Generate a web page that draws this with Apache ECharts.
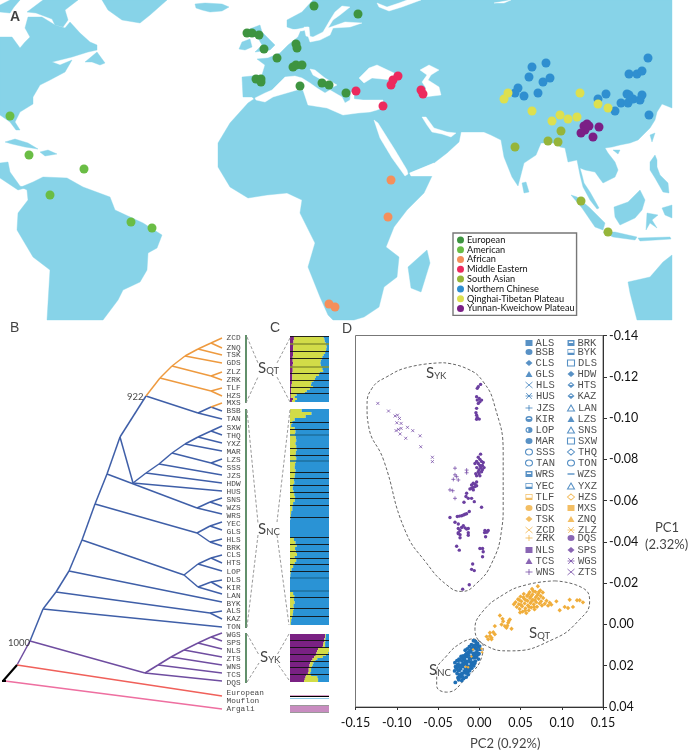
<!DOCTYPE html>
<html><head><meta charset="utf-8">
<style>html,body{margin:0;padding:0;background:#fff}#c{width:688px;height:751px}</style>
<script src="https://cdn.jsdelivr.net/npm/echarts@6/dist/echarts.min.js"></script>
</head><body><div id="c"></div>
<script>
// ---------- map outline (map units) ----------
const landPolys = [
 [[313,0],[672,0],[672,108],[662,104],[657,112],[655,120],[650,128],[638,140],[630,143],[620,145],[612,147],[605,148],[608,153],[615,162],[618,170],[615,177],[603,183],[600,179],[595,172],[585,170],[580,168],[582,175],[584,183],[590,192],[599,208],[597,209],[590,200],[583,187],[580,175],[577,160],[568,162],[565,148],[560,147],[557,143],[541,143],[536,155],[524,163],[518,186],[512,177],[504,157],[501,140],[491,135],[484,132],[461,132],[459,142],[447,153],[434,163],[409,173],[411,176],[432,176],[424,193],[407,210],[394,227],[386,247],[399,257],[397,277],[384,287],[379,307],[364,317],[354,320],[333,320],[328,315],[320,297],[308,267],[315,243],[300,213],[302,200],[287,193],[267,195],[248,198],[230,187],[218,167],[218,143],[230,123],[248,103],[254,99],[252,97],[243,97],[242,77],[262,75],[265,65],[257,59],[268,58],[280,53],[288,45],[298,37],[301,30],[293,29],[287,27],[287,20],[302,12]],
 [[239,49],[242,42],[250,39],[252,47],[245,50]],
 [[247,30],[260,25],[262,32],[268,38],[275,45],[270,50],[255,52],[262,45],[258,38],[252,34]],
 [[195,4],[205,3],[222,4],[229,7],[222,11],[210,12],[202,10],[196,8]],
 [[102,0],[167,0],[150,15],[140,23],[122,20],[108,10]],
 [[43,0],[78,0],[65,10],[68,20],[63,27],[55,25],[52,19],[36,13],[27,12]],
 [[0,5],[10,0],[20,0],[14,7],[10,13],[0,12]],
 [[0,37],[12,37],[20,48],[25,42],[30,37],[25,28],[28,17],[42,17],[55,25],[65,28],[70,22],[80,33],[90,42],[97,45],[97,50],[88,52],[72,57],[52,62],[60,65],[72,60],[65,72],[50,80],[40,85],[33,97],[33,104],[20,112],[15,122],[20,130],[16,130],[10,122],[0,115]],
 [[85,62],[97,52],[105,63],[100,65],[92,62]],
 [[5,142],[15,139],[28,143],[38,149],[25,147],[12,144]],
 [[40,152],[48,150],[57,154],[45,156]],
 [[0,163],[8,162],[10,172],[20,186],[25,188],[18,190],[0,178]],
 [[21,187],[33,182],[43,177],[67,178],[83,187],[110,197],[115,210],[143,223],[162,235],[157,248],[148,253],[147,270],[140,282],[123,290],[118,300],[103,320],[47,320],[50,270],[33,257],[17,230],[18,213],[28,200],[27,190]],
 [[408,267],[427,250],[430,263],[421,292],[411,288]],
 [[310,96],[318,94],[317,98]],
 [[297,83],[302,83],[302,92],[297,92]],
 [[650,135],[655,133],[652,142]],
 [[613,150],[620,150],[618,154]],
 [[650,162],[655,155],[657,160],[657,167],[660,175],[668,183],[669,193],[663,192],[655,178],[650,170]],
 [[614,207],[628,202],[640,190],[645,200],[642,210],[635,218],[620,225],[615,217]],
 [[647,213],[658,215],[652,220],[657,228],[650,223],[646,230]],
 [[571,195],[577,197],[590,208],[605,223],[603,230],[595,227],[582,208]],
 [[603,232],[615,232],[637,237],[635,240],[613,237]],
 [[638,238],[670,237],[671,239],[640,241]],
 [[662,208],[672,205],[672,218],[665,215]],
 [[628,282],[650,277],[663,262],[672,255],[672,320],[637,320],[630,293]],
 [[522,183],[526,182],[529,192],[524,193]]
];
const seaPolys = [
 [[255,98],[265,93],[272,90],[280,82],[285,77],[295,76],[302,78],[310,83],[317,88],[325,93],[330,90],[342,97],[345,103],[350,100],[351,92],[354,92],[354,99],[363,100],[383,100],[382,108],[377,110],[370,112],[358,113],[343,115],[327,108],[308,105],[303,90],[297,90],[273,97],[265,102],[256,100]],
 [[310,69],[315,70],[325,78],[337,85],[333,87],[322,80],[313,75]],
 [[359,78],[369,68],[377,65],[394,73],[392,80],[372,78],[364,83]],
 [[420,70],[429,65],[439,70],[431,75],[428,80],[439,87],[441,95],[424,97],[426,88],[422,82],[427,75]],
 [[374,120],[378,123],[395,150],[407,170],[408,174],[405,176],[392,158],[380,138]],
 [[422,117],[426,117],[434,128],[447,132],[456,133],[451,137],[442,134],[432,132],[427,125]],
 [[342,6],[350,7],[340,15],[333,20],[328,28],[345,22],[362,23],[350,27],[333,28],[330,35],[320,40],[310,42],[308,36],[313,37],[323,32],[330,20],[335,12]],
 [[304,27],[309,27],[310,37],[306,36]],
 [[293,30],[308,27],[308,29],[302,31]],
 [[377,3],[387,7],[399,3],[407,0],[421,0],[402,7],[389,11],[379,7]],
 [[494,3],[511,0],[504,3]],
 [[410,173],[434,163],[432,176],[411,176]]
];
// ---------- sample sites (map units) ----------
const siteEuropean = [[314,6],[358,14],[247,33],[252,33],[259,35],[264,49],[296,44],[297,48],[277,58],[293,67],[296,65],[302,65],[256,79],[261,79],[261,82],[300,86],[322,83],[329,85],[346,93]];
const siteAmerican = [[10,116],[29,155],[84,169],[50,195],[131,222],[152,228]];
const siteAfrican = [[329,304],[335,307],[391,180],[388,217]];
const siteMiddleEastern = [[356,91],[383,106],[391,85],[393,80],[398,76],[421,90],[423,94]];
const siteSouthAsian = [[515,147],[548,141],[558,142],[561,131],[581,201],[608,232]];
const siteNorthChinese = [[532,67],[546,63],[529,77],[543,82],[550,78],[518,88],[515,93],[524,96],[538,93],[648,58],[629,74],[637,74],[642,71],[606,94],[598,99],[627,94],[621,103],[628,103],[633,99],[640,100],[642,95],[629,95],[615,111],[649,115]];
const siteQinghai = [[508,93],[504,99],[532,111],[580,93],[598,104],[608,108],[552,121],[560,115],[568,119],[577,117]];
const siteYunnan = [[584,126],[589,126],[585,130],[581,133],[599,127],[593,137],[587,124]];

// ---------- phylogeny ----------
const tipNames = ['ZCD','ZNQ','TSK','GDS','ZLZ','ZRK','TLF','HZS','MXS','BSB','TAN','SXW','THQ','YXZ','MAR','LZS','SSS','JZS','HDW','HUS','SNS','WZS','WRS','YEC','GLS','HLS','BRK','CLS','HTS','LOP','DLS','KIR','LAN','BYK','ALS','KAZ','TON','WGS','SPS','NLS','ZTS','WNS','TCS','DQS','European','Mouflon','Argali'];
const tipRows = [338,348,355,363,372,380,388,396,403,411,419,428,436,444,452,460,468,476,484,492,500,508,516,524,532,540,548,555,563,572,580,588,596,604,611,619,627,635,643,651,659,667,675,683,693,701,709];
const edgesOrange = [[146,396,160,378],[160,378,172,366],[172,366,185,356],[185,356,198,349],[198,349,211,343],[211,343,222,338],[211,343,222,348],[198,349,222,355],[185,356,222,363],[172,366,211,376],[211,376,222,372],[211,376,222,380],[160,378,211,391],[211,391,222,388],[211,391,222,396],[211,407,222,403]];
const edgesBlue = [[30,641,43,609],[43,609,56,592],[56,592,69,571],[69,571,82,540],[82,540,95,504],[95,504,107,474],[107,474,120,437],[120,437,146,396],[146,396,198,413],[198,413,211,407],[211,407,222,411],[198,413,222,419],[43,609,222,627],[56,592,210,613],[210,613,222,611],[210,613,222,619],[69,571,222,602],[82,540,184,575],[184,575,198,564],[198,564,211,558],[211,558,222,555],[211,558,222,563],[198,564,222,571],[184,575,198,587],[198,587,211,582],[211,582,222,580],[211,582,222,588],[198,587,222,594],[95,504,197,533],[197,533,210,526],[210,526,222,522],[210,526,222,530],[197,533,210,542],[210,542,222,539],[210,542,222,546],[107,474,197,508],[197,508,210,502],[210,502,222,498],[210,502,222,506],[197,508,222,514],[120,437,133,483],[133,483,222,491],[133,483,146,473],[146,473,222,483],[146,473,159,464],[159,464,222,475],[159,464,172,453],[172,453,211,463],[211,463,222,459],[211,463,222,467],[172,453,185,444],[185,444,222,451],[185,444,198,437],[198,437,222,443],[198,437,211,431],[211,431,222,426],[211,431,222,435]];
const edgesPurple = [[17,665,30,641],[30,641,145,673],[145,673,158,665],[158,665,171,657],[171,657,184,650],[184,650,198,643],[198,643,211,637],[211,637,222,633],[211,637,222,641],[198,643,222,649],[184,650,222,657],[171,657,222,665],[158,665,222,673],[145,673,222,681]];
const edgesRed = [[17,665,222,696]];
const edgesPink = [[5,681,222,709]];
const edgesBlack = [[3,681,17,665],[2,681,6,681]];
const cladeBars = [[246,335,246,403],[246,409,246,628],[246,633,246,683]];
const cladeDashes = [[247,337,258,363],[246,403,258,377],[290,338,277,363],[290,402,277,377],[247,410,258,523],[258,535,247,627],[290,410,277,522],[277,535,289,625],[247,634,259,655],[247,682,259,663],[289,634,277,655],[289,680,277,663]];

// ---------- admixture fractions (rows, top to bottom) ----------
const qtPurple = [10,10,9,9,9,8,8,8,8,8,7,7,7,8,7,7,7,7,6,6,6,6,5,5,4,4,3,3,3,2,2,8,5];
const qtYellow = [76,78,80,82,84,86,85,84,82,78,76,74,72,70,72,74,76,78,70,68,60,58,55,50,50,55,48,40,35,15,10,10,8];
const qtBlue   = [14,12,11,9,7,6,7,8,10,14,17,19,21,22,21,19,17,15,24,26,34,36,40,45,46,41,49,57,62,83,88,82,87];
const ncYellow = [30,55,40,12,6,3,12,14,13,15,16,14,16,17,15,14,16,15,13,12,14,13,12,10,11,8,7,9,11,13,12,8,6,6,3,2,1,0,0,0,0,0,0,10,14,17,13,15,18,12,16,12,8,4,2,1,0,0,0,0,0,8,11,10,12,9,10,8,7,5,3,2];
const ncBlue   = [70,45,60,88,94,97,88,86,87,85,84,86,84,83,85,86,84,85,87,88,86,87,88,90,89,92,93,91,89,87,88,92,94,94,97,98,99,100,100,100,100,100,100,90,86,83,87,85,82,88,84,88,92,96,98,99,100,100,100,100,100,92,89,90,88,91,90,92,93,95,97,98];
const ykPurple = [90,90,88,88,86,85,84,72,70,68,66,62,58,55,52,50,50,48,48,46,42,40,38,36];
const ykYellow = [2,2,3,3,4,5,6,28,30,30,26,22,12,10,8,8,6,6,6,6,12,30,34,36];
const ykBlue   = [8,8,9,9,10,10,10,0,0,2,8,16,30,35,40,42,44,46,46,48,46,30,28,28];
const argaliShare = [100,100,100];
const popSeparators = [336,351,358,373,380,387,393,422,429,448,455,472,478,485,492,498,505,517,537,544,551,558,564,571,597,608,616,640,647,654,661,667,674];
const olivesSeparators = [344,367];
const tealSeparators = [435,461,578,591];

// ---------- PCA (PC2, PC1) ----------
const pcaZTS = [[-.1229,-.1071],[-.110,-.1034],[-.102,-.101],[-.0991,-.1014],[-.0967,-.0998],[-.0999,-.0977],[-.0947,-.0974],[-.087,-.0955],[-.0806,-.0939],[-.0947,-.095],[-.0979,-.0945],[-.1008,-.0939],[-.0959,-.0923],[-.0891,-.0902],[-.0717,-.0914],[-.0709,-.0861],[-.0568,-.081],[-.0568,-.0789]];
const pcaWNS = [[-.0294,-.0757],[-.0294,-.0725],[-.0274,-.0716],[-.0314,-.0703],[-.0153,-.0748],[-.0153,-.0735],[-.0355,-.0652],[-.0322,-.0648],[-.0254,-.07],[-.0294,-.0611]];
const pcaYKother = [[-.0012,-.1152],[.0016,-.1163],[-.0024,-.1144],[-.0032,-.1103],[0,-.1095],[.0028,-.1087],[-.0024,-.1087],[.0008,-.1079],[-.0012,-.1071],[-.0032,-.1047],[-.004,-.1026],[-.0032,-.1014],[-.0024,-.1003],[0,-.0995],[-.0032,-.0994],
[.0016,-.0825],[-.0012,-.081],[.0008,-.08],[-.0032,-.079],[.0028,-.079],[-.0052,-.078],[-.0012,-.078],[.0048,-.0785],[.0008,-.077],[.0038,-.077],[-.003,-.076],[.0018,-.076],[.0058,-.076],[-.0002,-.075],[.0038,-.075],[-.0012,-.074],[.0028,-.074],[-.0042,-.073],[-.0002,-.073],[-.0032,-.072],[.0008,-.072],
[-.0093,-.0676],[-.0073,-.0684],[-.0052,-.068],[-.0032,-.069],[-.0093,-.066],[-.0073,-.0664],[-.0052,-.0668],[-.0113,-.0656],[-.0032,-.0672],[-.0072,-.0652],[-.0153,-.0636],[-.0161,-.062],[-.0133,-.0611],[-.0185,-.0592],[-.0093,-.0611],[-.006,-.0595],[.0028,-.0568],
[-.0266,-.0523],[-.0214,-.0527],[-.0173,-.0534],[-.0121,-.0547],[-.024,-.0525],[-.019,-.053],[-.0153,-.0536],[-.0355,-.0518],[-.0294,-.0495],[-.0254,-.0487],
[-.0254,-.0465],[-.0233,-.0455],[-.0214,-.047],[-.0193,-.0478],[-.0173,-.0468],[-.0153,-.0462],[-.0133,-.0465],[-.0254,-.0444],[-.0233,-.0435],[-.0133,-.0444],[-.0233,-.042],
[.0069,-.0455],[.0109,-.0455],[.0085,-.0448],[.0065,-.0445],[.0095,-.0448],[.0077,-.0425],[-.0254,-.044],[-.0133,-.0432],[-.0274,-.0379],[-.0242,-.036],[.0008,-.0368],[.004,-.0368],[.0048,-.0352],[.004,-.0328],[-.008,-.0293],[-.0093,-.0267],[-.006,-.0261],[-.0121,-.0192],[-.0201,-.0171]];
const pcaQT = [[.0935,-.0112],[.1096,-.012],[.1185,-.0117],[.1217,-.0117],[.1257,-.0107],[.0975,-.0069],[.1036,-.0085],[.1076,-.008],[.1136,-.0085],[.0834,-.0091],[.0874,-.0096],[.0854,-.0105],[.0794,-.01],[.0815,-.0115],
[.025,-.0043],[.0282,-.0027],[.0371,-.0024],[.0351,-.0008],[.027,0],[.031,.0008],[.0391,.0021],[.033,.0016],[.0189,.0008],[.0129,.004],[.0089,.0059],[.0149,.0064],[.0189,.0048],[.0109,.0072],[.0149,.0072],[.013,.0056],[.017,.0038],[.034,.0006],[.029,-.0015],[.036,-.0018],
[.042,-.0098],[.044,-.0108],[.0455,-.0085],[.047,-.0122],[.048,-.0098],[.049,-.0075],[.05,-.0135],[.051,-.0112],[.052,-.0088],[.0525,-.0062],[.054,-.0148],[.0545,-.0124],[.055,-.0102],[.056,-.0078],[.057,-.0055],[.058,-.0138],[.0585,-.0115],[.059,-.0092],[.06,-.0068],[.061,-.0156],[.0615,-.0128],[.062,-.0104],[.063,-.0082],[.064,-.0172],[.0645,-.0145],[.065,-.012],[.066,-.0097],[.067,-.0073],[.068,-.0158],[.0685,-.0132],[.069,-.0108],[.07,-.0086],[.071,-.0185],[.0715,-.0149],[.072,-.0124],[.073,-.0102],[.074,-.0165],[.0745,-.0138],[.075,-.0112],[.076,-.0092],[.077,-.0155],[.0775,-.0128],[.0485,-.0118],[.0505,-.0095],[.0535,-.0132],[.0565,-.0118],[.0595,-.0145],[.0625,-.0135],[.0655,-.0162],[.0675,-.0118],[.0705,-.0142],[.0725,-.0158],[.0555,-.0068],[.0605,-.0085],[.0495,-.0058],[.0635,-.0112],[.0665,-.0085]];
const pcaNC = [[-.0295,.0185],[-.0288,.0205],[-.0299,.0225],[-.029,.0281],[-.027,.0175],[-.0263,.0195],[-.0276,.0212],[-.0268,.0238],[-.0258,.0258],[-.0245,.0168],[-.0238,.019],[-.0251,.0205],[-.0243,.0224],[-.0236,.0246],[-.0249,.0268],[-.022,.0155],[-.0214,.018],[-.0226,.0198],[-.0217,.0215],[-.0209,.0237],[-.0223,.0255],[-.0212,.0272],[-.0195,.0152],[-.0188,.0172],[-.0201,.0188],[-.0192,.0206],[-.0185,.0228],[-.0198,.0249],[-.019,.0262],[-.017,.0125],[-.0163,.0146],[-.0176,.0168],[-.0167,.0183],[-.016,.0199],[-.0173,.0218],[-.0165,.0236],[-.0158,.0255],[-.0145,.0118],[-.0138,.0138],[-.0151,.0155],[-.0142,.0176],[-.0135,.0192],[-.0148,.0211],[-.014,.0232],[-.0133,.0243],[-.012,.0108],[-.0114,.0129],[-.0126,.0149],[-.0117,.0165],[-.011,.0184],[-.0123,.0203],[-.0116,.0224],[-.0095,.0098],[-.0089,.0118],[-.0101,.0135],[-.0092,.0158],[-.0085,.0172],[-.0098,.0195],[-.0091,.0212],[-.007,.0079],[-.0064,.0101],[-.0076,.0122],[-.0067,.0142],[-.006,.0161],[-.0073,.0181],[-.0066,.0201],[-.0045,.0082],[-.0039,.0098],[-.0051,.0116],[-.0042,.0135],[-.0035,.0158],[-.0048,.0178],[-.002,.0092],[-.0014,.0108],[-.0026,.0126],[-.0017,.0147],[-.001,.0168],[.0005,.0105],[.0011,.0121],[-.0002,.0142],
[-.0258,.0175],[-.0232,.0172],[-.0205,.0163],[-.018,.0158],[-.0155,.0142],[-.013,.0135],[-.0105,.0125],[-.008,.0112],[-.0055,.0105],[-.003,.0115],[-.0258,.0222],[-.0232,.0208],[-.0205,.0198],[-.018,.0192],[-.0155,.0182],[-.013,.0172],[-.0105,.0165],[-.008,.0152],[-.0055,.0148],[-.003,.0138],[-.0232,.0245],[-.0205,.0238],[-.018,.0228],[-.0155,.0222],[-.013,.0212],[-.0105,.0205],[-.008,.0192],[-.0055,.0188]];
const pcaNCpale = [[-.0228,.0186],[-.0198,.0216],[-.0172,.0205],[-.0148,.0168],[-.0125,.0192],[-.0102,.0146],[-.0078,.0172],[-.0058,.0128],[-.0178,.0246],[-.021,.0226]];
const pcaQTinNC = [[-.0165,.0205],[-.0135,.0208],[-.0095,.0155],[-.0075,.0122],[.0035,.0135],[.0028,.0118]];
const loopYK = [[-.0435,-.1268],[-.0153,-.124],[.0048,-.1176],[.019,-.1055],[.029,-.083],[.029,-.057],[.027,-.0456],[.015,-.0296],[-.003,-.02],[-.0214,-.016],[-.0395,-.0192],[-.0637,-.0296],[-.09,-.0456],[-.116,-.0797],[-.134,-.0958],[-.136,-.1055],[-.13,-.1144],[-.112,-.12],[-.084,-.1248],[-.0435,-.1268]];
const loopQT = [[.0915,-.0211],[.1257,-.0176],[.1338,-.0112],[.1217,-.0024],[.0895,.0072],[.0371,.0128],[.0089,.0104],[-.0052,.0024],[.0028,-.0056],[.029,-.0144],[.0572,-.0192],[.0915,-.0211]];
const loopNC = [[-.0073,.0069],[.0048,.0104],[.0028,.016],[-.0153,.0256],[-.0395,.0328],[-.0516,.0296],[-.0516,.0232],[-.0395,.0152],[-.0214,.0088],[-.0073,.0069]];

// ---------- PCA key ----------
const keyLeft = ['ALS','BSB','CLS','GLS','HLS','HUS','JZS','KIR','LOP','MAR','SSS','TAN','WRS','YEC','TLF','GDS','TSK','ZCD','ZRK','NLS','TCS','WNS'];
const keyRight = ['BRK','BYK','DLS','HDW','HTS','KAZ','LAN','LZS','SNS','SXW','THQ','TON','WZS','YXZ','HZS','MXS','ZNQ','ZLZ','DQS','SPS','WGS','ZTS'];
const keyRows = [343,352,363,374,385,396,408,419,430,441,452,463,474,486,497,508,519,530,538,550,561,572];
const keyShapesLeft = ['sq','ci','di','tr','x','ast','pl','hci','hciO','ci','ciO','ciO','hsq','hsqO','hsqO','ci','di','x','pl','sq','tr','pl'];
const keyShapesRight = ['hsq','hsqO','sqO','di','hdi','hdi','trO','tr','trO','sqO','diO','ciO','dash','trO','diO','sq','tr','ast','ci','di','ast','x'];

const BLUE='#2E75B6', ORANGE='#F0AE3C', PURPLE='#6B3FA0';
const PATHS = {
 sq:'path://M0 0H10V8H0Z', sqO:'path://M0 0H10V8H0Z', ci:'path://M5 0A5 4 0 1 1 5 8A5 4 0 1 1 5 0Z', ciO:'path://M5 0A5 4 0 1 1 5 8A5 4 0 1 1 5 0Z',
 di:'path://M5 0L10 4L5 8L0 4Z', diO:'path://M5 0L10 4L5 8L0 4Z', tr:'path://M5 0L10 8H0Z', trO:'path://M5 0L10 8H0Z',
 x:'path://M0 0L10 10M10 0L0 10', pl:'path://M5 0V10M0 5H10', ast:'path://M1 1L9 9M9 1L1 9M0 5H10',
 hsq:'path://M0 0H10V8H0Z M2 2V4H8V2Z', hsqO:'path://M0 0H10V8H0Z M1 1V5H9V1Z', hdi:'path://M5 0L10 4L5 8L0 4Z M5 1.5L2.5 4H7.5Z',
 hci:'path://M5 0A5 4 0 1 1 5 8A5 4 0 1 1 5 0Z M5 2A3 2 0 0 0 2 4H8A3 2 0 0 0 5 2Z', hciO:'path://M5 0A5 4 0 1 1 5 8A5 4 0 1 1 5 0Z M4 1.5A3.2 2.6 0 0 0 4 6.5Z'
};
const OUTLINE = new Set(['sqO','ciO','diO','trO']), STROKED = new Set(['x','pl','ast']);
function keyColor(col,i){
  if(col===0) return i<14?BLUE:(i<19?ORANGE:PURPLE);
  return i<14?BLUE:(i<18?ORANGE:PURPLE);
}
function keyItem(name,shape,x,y,color){
  if(shape==='dash') return {name:name,value:[x,y],symbol:'rect',symbolSize:[7,1.4],itemStyle:{color:color}};
  const st = OUTLINE.has(shape)?{color:'#fff',borderColor:color,borderWidth:1}:STROKED.has(shape)?{color:color,borderColor:color,borderWidth:.9}:{color:color};
  return {name:name,value:[x,y],symbol:PATHS[shape],itemStyle:st};
}
const keyData=[];
keyLeft.forEach((n,i)=>keyData.push(keyItem(n,keyShapesLeft[i],529,keyRows[i],keyColor(0,i))));
keyRight.forEach((n,i)=>keyData.push(keyItem(n,keyShapesRight[i],571,keyRows[i],keyColor(1,i))));

// ---------- free text ----------
const SANS='Lato, "Open Sans", sans-serif';
const notes=[
 ['A',10,17,{fontSize:14,fontWeight:'bold',fontFamily:'Liberation Sans'}],
 ['B',10,328,{fontSize:14,fontFamily:'Liberation Sans'}],
 ['C',270,328,{fontSize:14,fontFamily:'Liberation Sans'}],
 ['D',342,329,{fontSize:14,fontFamily:'Liberation Sans'}],
 ['922',127,397,{fontSize:9.5,fontFamily:SANS}],
 ['1000',8,643,{fontSize:9.5,fontFamily:SANS}],
 ['{s|S}{t|QT}',258,368,{}],['{s|S}{t|NC}',258,529,{}],['{s|S}{t|YK}',260,657,{}],
 ['{s|S}{t|YK}',426,373,{}],['{s|S}{t|QT}',529,633,{}],['{s|S}{t|NC}',429,670,{}],
 ['PC1',655,528,{fontSize:13,fontFamily:SANS}],['(2.32%)',645,545,{fontSize:13,fontFamily:SANS}],
 ['PC2 (0.92%)',470,744,{fontSize:13,fontFamily:SANS}]
];

// ---------- helpers ----------
function polySeries(name,list,color){
  return {type:'custom',name:name,xAxisIndex:0,yAxisIndex:0,silent:true,clip:false,
    data:list.map((p,i)=>[i]),
    encode:{x:0,y:0},
    renderItem:(params,api)=>({type:'polygon',shape:{points:list[params.dataIndex].map(p=>api.coord(p))},style:{fill:color,stroke:color,lineWidth:.4}})};
}
function siteSeries(name,data,color){
  return {type:'scatter',name:name,xAxisIndex:0,yAxisIndex:0,data:data,symbolSize:9,itemStyle:{color:color,opacity:1},silent:true,z:3};
}
function edgeSeries(list,color,width,dash,z){
  return {type:'lines',coordinateSystem:'cartesian2d',xAxisIndex:0,yAxisIndex:0,silent:true,polyline:false,z:z||3,
    lineStyle:{color:color,width:width,type:dash||'solid',opacity:1},
    data:list.map(e=>({coords:[[e[0],e[1]],[e[2],e[3]]]}))};
}
function hLines(ys,color,width){
  return edgeSeries(ys.map(y=>[290,y,329,y]),color,width,null,6);
}
function stack(ax,name,data,color){
  return {type:'bar',name:name,xAxisIndex:ax,yAxisIndex:ax,stack:'s'+ax,data:data,barWidth:'100%',itemStyle:{color:color},silent:true,z:2,barCategoryGap:0};
}
function pcaSeries(data,symbol,size,color,stroke,z){
  return {type:'scatter',xAxisIndex:1,yAxisIndex:1,data:data,symbol:symbol,symbolSize:size,silent:true,z:z||3,
    itemStyle:stroke?{color:color,borderColor:color,borderWidth:.7,opacity:1}:{color:color,opacity:1}};
}
function loopSeries(data){
  return {type:'line',xAxisIndex:1,yAxisIndex:1,data:data,smooth:.5,symbol:'none',silent:true,z:2,
    lineStyle:{color:'#555',width:.9,type:[3,2]}};
}
const rowsOf=a=>a.map((_,i)=>i);
const hiddenV=(i)=>({type:'value',gridIndex:i,min:0,max:100,show:false});
const hiddenC=(i,a)=>({type:'category',gridIndex:i,data:rowsOf(a),inverse:true,show:false});

const chart=echarts.init(document.getElementById('c'),null,{renderer:'canvas',width:688,height:751});
chart.setOption({
 animation:false,
 backgroundColor:'#fff',
 legend:{data:['European','American','African','Middle Eastern','South Asian','Northern Chinese','Qinghai-Tibetan Plateau','Yunnan-Kweichow Plateau'],
   orient:'vertical',left:453,top:233,width:123,height:81,selectedMode:false,icon:'circle',itemWidth:7,itemHeight:7,itemGap:0,
   padding:[2,2,2,4],borderColor:'#777',borderWidth:1.4,backgroundColor:'#fff',
   textStyle:{fontSize:9.2,lineHeight:9.8,color:'#111',fontFamily:SANS,padding:[0,0,0,-2]}},
 grid:[
  {left:0,top:0,width:688,height:751,show:false},
  {left:355.5,top:335.5,width:247.5,height:371.5,show:true,borderColor:'#777',borderWidth:1},
  {left:290,top:336,width:39,height:66},
  {left:290,top:409,width:39,height:216},
  {left:290,top:634,width:39,height:48},
  {left:290,top:706,width:39,height:6}
 ],
 xAxis:[
  {type:'value',gridIndex:0,min:0,max:688,show:false},
  {type:'value',gridIndex:1,min:-.15,max:.15,interval:.05,position:'bottom',
   axisLine:{show:true,onZero:false,lineStyle:{color:'#333'}},axisTick:{show:true,length:3,lineStyle:{color:'#333'}},splitLine:{show:false},
   axisLabel:{margin:9,fontSize:12.5,color:'#111',fontFamily:SANS,formatter:v=>Math.abs(v)<1e-9?'0.00':v.toFixed(2)}},
  hiddenV(2),hiddenV(3),hiddenV(4),hiddenV(5)
 ],
 yAxis:[
  {type:'value',gridIndex:0,min:0,max:751,inverse:true,show:false},
  {type:'value',gridIndex:1,min:-.14,max:.04,interval:.02,inverse:true,position:'right',
   axisLine:{show:true,onZero:false,lineStyle:{color:'#333'}},axisTick:{show:true,length:4,lineStyle:{color:'#333'}},splitLine:{show:false},
   axisLabel:{margin:6,fontSize:12.5,color:'#111',fontFamily:SANS,formatter:v=>Math.abs(v)<1e-9?'0.00':v.toFixed(2)}},
  hiddenC(2,qtBlue),hiddenC(3,ncBlue),hiddenC(4,ykBlue),hiddenC(5,argaliShare)
 ],
 series:[
  polySeries('land',landPolys,'#87D3E8'),
  polySeries('sea',seaPolys,'#ffffff'),
  siteSeries('European',siteEuropean,'#3E9440'),
  siteSeries('American',siteAmerican,'#6ABD45'),
  siteSeries('African',siteAfrican,'#F48F5B'),
  siteSeries('Middle Eastern',siteMiddleEastern,'#EC2A5E'),
  siteSeries('South Asian',siteSouthAsian,'#96B53A'),
  siteSeries('Northern Chinese',siteNorthChinese,'#2F8FD0'),
  siteSeries('Qinghai-Tibetan Plateau',siteQinghai,'#DDE04F'),
  siteSeries('Yunnan-Kweichow Plateau',siteYunnan,'#7B1F86'),
  edgeSeries(edgesBlue,'#3F5FA8',1.5),
  edgeSeries(edgesOrange,'#EE9A3F',1.5),
  edgeSeries(edgesPurple,'#6F4DA0',1.5),
  edgeSeries(edgesRed,'#F0605A',1.5),
  edgeSeries(edgesPink,'#EE6FA0',1.5),
  edgeSeries(edgesBlack,'#000',2),
  edgeSeries(cladeBars,'#2E6B3A',1.5),
  edgeSeries(cladeDashes,'#999',1,[3,2]),
  {type:'scatter',xAxisIndex:0,yAxisIndex:0,silent:true,z:4,symbolSize:0.1,itemStyle:{color:'rgba(0,0,0,0)'},
   data:tipNames.map((n,i)=>({name:n,value:[226.5,tipRows[i]]})),
   label:{show:true,position:'right',distance:0,formatter:'{b}',fontSize:7.8,color:'#111',fontFamily:'Liberation Mono'}},
  stack(2,'p',qtPurple,'#7A2183'),stack(2,'y',qtYellow,'#D2DC48'),stack(2,'b',qtBlue,'#2A93D5'),
  stack(3,'y',ncYellow,'#D2DC48'),stack(3,'b',ncBlue,'#2A93D5'),
  stack(4,'p',ykPurple,'#7A2183'),stack(4,'y',ykYellow,'#D2DC48'),stack(4,'b',ykBlue,'#2A93D5'),
  stack(5,'a',argaliShare,'#C88CC0'),
  hLines(popSeparators,'#111',.9),
  hLines(olivesSeparators,'#8B962E',1.6),
  hLines(tealSeparators,'#1E6F9E',1.6),
  hLines([695],'#D8A0C8',1),hLines([696.5],'#000',1.2),hLines([698],'#6FBBE0',.8),
  hLines([705.5,712.5],'#999',1),
  loopSeries(loopYK),loopSeries(loopQT),loopSeries(loopNC),
  pcaSeries(pcaYKother,'circle',3.4,PURPLE),
  pcaSeries(pcaZTS,PATHS.x,3,PURPLE,true),
  pcaSeries(pcaWNS,PATHS.pl,4,PURPLE,true),
  pcaSeries(pcaQT,'diamond',4.4,ORANGE),
  pcaSeries(pcaNC,'circle',3.8,'#1F6FB5',false,3),
  pcaSeries(pcaNCpale,'circle',2,'#9CC6E8',false,4),
  pcaSeries(pcaQTinNC,'diamond',3,ORANGE,false,5),
  {type:'scatter',xAxisIndex:0,yAxisIndex:0,silent:true,z:5,symbolSize:[7,6],data:keyData,
   label:{show:true,position:'right',distance:3,formatter:'{b}',fontSize:10.5,color:'#222',fontFamily:'Liberation Mono'}},
  {type:'scatter',xAxisIndex:0,yAxisIndex:0,silent:true,z:6,symbolSize:0.1,itemStyle:{color:'rgba(0,0,0,0)'},
   data:notes.map(n=>({value:[n[1],n[2]],label:Object.assign({show:true,position:'right',distance:0,color:'#111',formatter:n[0],
     rich:{s:{fontSize:15,fontFamily:SANS,color:'#111'},t:{fontSize:9.5,fontFamily:SANS,color:'#111',padding:[6,0,0,0]}}},n[3])}))}
 ]
});
</script></body></html>
